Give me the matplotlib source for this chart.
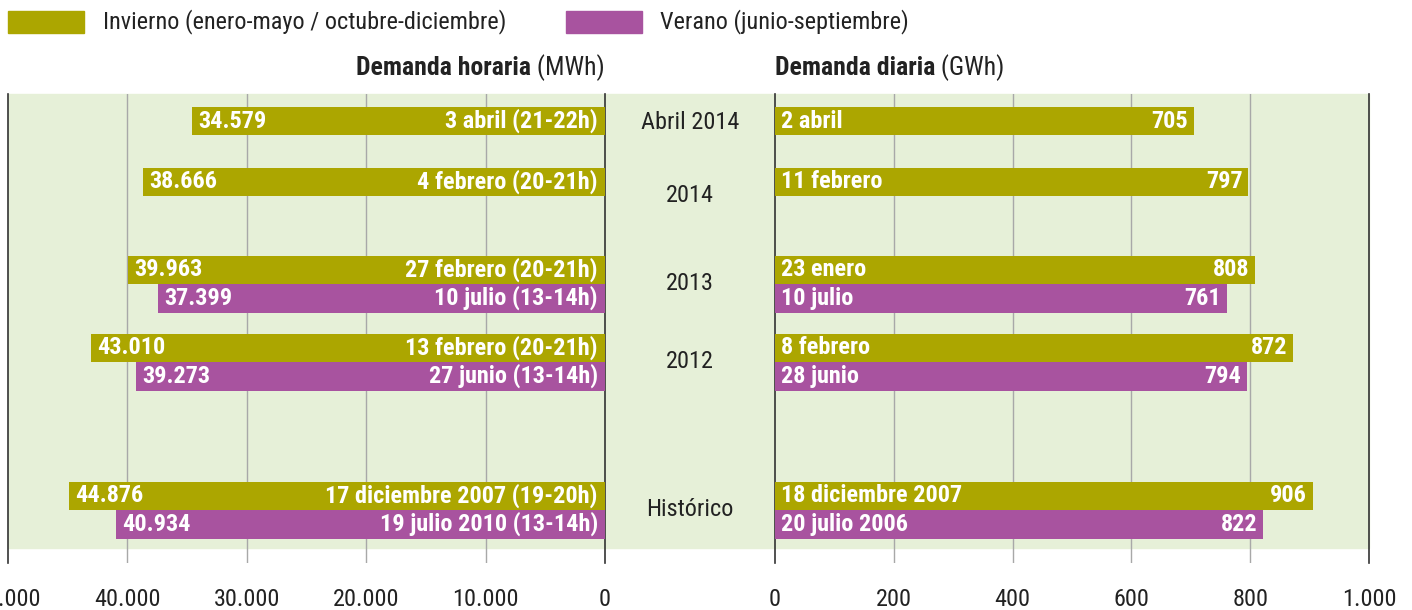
import matplotlib.pyplot as plt
from matplotlib.patches import Rectangle

plt.rcParams['font.family'] = ['Roboto Condensed', 'Liberation Sans Narrow', 'Roboto', 'DejaVu Sans']

periods = ["Abril 2014", "2014", "2013", "2012", "Histórico"]

winter_hourly = [34579, 38666, 39963, 43010, 44876]
winter_hourly_dates = ["3 abril (21-22h)", "4 febrero (20-21h)", "27 febrero (20-21h)",
                       "13 febrero (20-21h)", "17 diciembre 2007 (19-20h)"]
summer_hourly = [None, None, 37399, 39273, 40934]
summer_hourly_dates = [None, None, "10 julio (13-14h)", "27 junio (13-14h)",
                       "19 julio 2010 (13-14h)"]

winter_daily = [705, 797, 808, 872, 906]
winter_daily_dates = ["2 abril", "11 febrero", "23 enero", "8 febrero", "18 diciembre 2007"]
summer_daily = [None, None, 761, 794, 822]
summer_daily_dates = [None, None, "10 julio", "28 junio", "20 julio 2006"]

hourly_ticks = [50000, 40000, 30000, 20000, 10000, 0]
daily_ticks = [0, 200, 400, 600, 800, 1000]

OLIVE = "#aca600"
PURPLE = "#a8539f"
BG = "#e6f0d8"
INK = "#222222"
W, H = 1412, 610
FS = 17.5

# layout (pixel rows)
row_y = [121, 182, 284, 362, 510]
label_y = [123, 196, 283, 361, 510]
bar_h = 28.5


def fmt(v):
    return f"{v:,}".replace(",", ".")


def fx(px):
    return px / W


def fy(py):
    return 1 - py / H


fig = plt.figure(figsize=(W / 100, H / 100), dpi=100)
fig.patches.append(Rectangle((fx(8), fy(548)), fx(1369) - fx(8), fy(94) - fy(548),
                             transform=fig.transFigure, color=BG, zorder=-5))

axl = fig.add_axes([fx(8), fy(563), fx(605) - fx(8), fy(94) - fy(563)])
axr = fig.add_axes([fx(775), fy(563), fx(1369) - fx(775), fy(94) - fy(563)])

for ax in (axl, axr):
    ax.patch.set_visible(False)
    ax.set_ylim(563, 94)
    ax.set_yticks([])
    for s in ("top", "bottom"):
        ax.spines[s].set_visible(False)
    for s in ("left", "right"):
        ax.spines[s].set_color("#333333")
        ax.spines[s].set_linewidth(1.2)
    ax.tick_params(axis="x", length=0, pad=18, labelsize=FS, colors=INK)

axl.set_xlim(50000, 0)
axr.set_xlim(0, 1000)
axl.set_xticks(hourly_ticks, [fmt(t) for t in hourly_ticks])
axr.set_xticks(daily_ticks, [fmt(t) for t in daily_ticks])
for t in hourly_ticks[1:-1]:
    axl.axvline(t, color="#a8a8a8", lw=1, zorder=1)
for t in daily_ticks[1:-1]:
    axr.axvline(t, color="#a8a8a8", lw=1, zorder=1)

lab = dict(color="white", fontsize=FS, fontweight="bold", va="center", zorder=4)

for i, y0 in enumerate(row_y):
    two = summer_hourly[i] is not None
    yw = y0 - bar_h / 2 if two else y0
    # hourly (left)
    axl.barh(yw, winter_hourly[i], height=bar_h, color=OLIVE, zorder=3)
    axl.text(winter_hourly[i] - 500, yw, fmt(winter_hourly[i]), ha="left", **lab)
    axl.text(600, yw, winter_hourly_dates[i], ha="right", **lab)
    # daily (right)
    axr.barh(yw, winter_daily[i], height=bar_h, color=OLIVE, zorder=3)
    axr.text(10, yw, winter_daily_dates[i], ha="left", **lab)
    axr.text(winter_daily[i] - 10, yw, fmt(winter_daily[i]), ha="right", **lab)
    if two:
        ys = y0 + bar_h / 2
        axl.barh(ys, summer_hourly[i], height=bar_h, color=PURPLE, zorder=3)
        axl.text(summer_hourly[i] - 500, ys, fmt(summer_hourly[i]), ha="left", **lab)
        axl.text(600, ys, summer_hourly_dates[i], ha="right", **lab)
        axr.barh(ys, summer_daily[i], height=bar_h, color=PURPLE, zorder=3)
        axr.text(10, ys, summer_daily_dates[i], ha="left", **lab)
        axr.text(summer_daily[i] - 10, ys, fmt(summer_daily[i]), ha="right", **lab)
    fig.text(fx(690), fy(label_y[i]), periods[i], ha="center", va="center", fontsize=FS,
             color=INK)

# legend
fig.patches.append(Rectangle((fx(8), fy(33)), fx(84) - fx(8), fy(11) - fy(33),
                             transform=fig.transFigure, color=OLIVE))
fig.text(fx(103), fy(22), "Invierno (enero-mayo / octubre-diciembre)", va="center",
         fontsize=FS, color=INK)
fig.patches.append(Rectangle((fx(566), fy(33)), fx(642) - fx(566), fy(11) - fy(33),
                             transform=fig.transFigure, color=PURPLE))
fig.text(fx(660), fy(22), "Verano (junio-septiembre)", va="center",
         fontsize=FS, color=INK)

# panel titles
TFS = 18.5
t1 = fig.text(fx(605), fy(68), " (MWh)", ha="right", va="center", fontsize=TFS, color=INK)
fig.canvas.draw()
bb = t1.get_window_extent()
fig.text(bb.x0 / W, fy(68), "Demanda horaria", ha="right", va="center", fontsize=TFS,
         fontweight="bold", color=INK)
t2 = fig.text(fx(775), fy(68), "Demanda diaria", ha="left", va="center", fontsize=TFS,
              fontweight="bold", color=INK)
fig.canvas.draw()
bb = t2.get_window_extent()
fig.text(bb.x1 / W, fy(68), " (GWh)", ha="left", va="center", fontsize=TFS, color=INK)

fig.savefig("out.png", dpi=100)
